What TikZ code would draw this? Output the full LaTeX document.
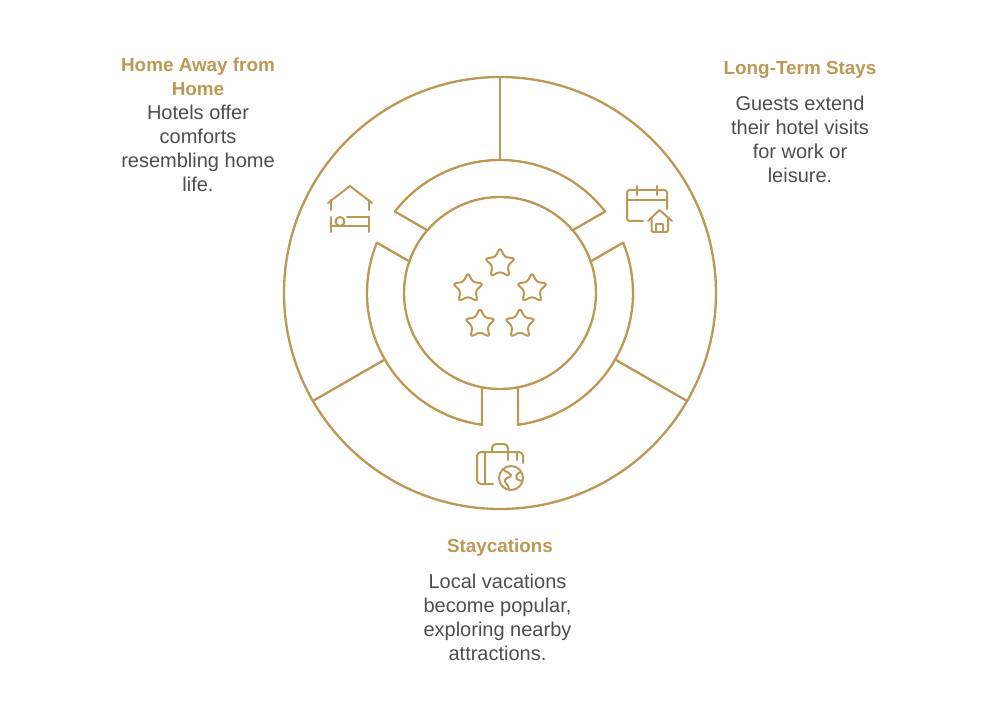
\documentclass[tikz,border=0pt]{standalone}
\usepackage{fontspec}
\setmainfont{Liberation Sans}
\definecolor{gold}{HTML}{BC9856}
\definecolor{bodygray}{HTML}{4D4D4D}
\tikzset{
  px/.style={x=0.75pt,y=-0.75pt},
  ln/.style={draw=gold,line width=1.75pt,line cap=round,line join=round},
  icon/.style={draw=gold,line width=1.5pt,line cap=round,line join=round},
  titletext/.style={text=gold,font=\fontsize{14.15}{18}\selectfont\bfseries,align=center,inner sep=0pt,anchor=base},
  bodytext/.style={text=bodygray,font=\fontsize{15}{18}\selectfont,align=center,inner sep=0pt,anchor=base}
}
\begin{document}
\begin{tikzpicture}[px]
\useasboundingbox (0,0) rectangle (1000,720);
\coordinate (c) at (500,293);
% circles
\draw[ln] (c) circle[radius=216];
\draw[ln] (c) circle[radius=96];
% ring segments, with y pointing down: angles are measured clockwise on screen
\foreach \a/\b in {217.78/322.22, 337.78/442.22, 97.78/202.22}{
  \draw[ln] ([shift={(\a:133)}]c) arc[start angle=\a,end angle=\b,radius=133];
}
% channel walls
\foreach \a in {90,210,330}{
  \draw[ln] ([shift={(\a-10.8:96)}]c) -- ([shift={(\a-7.78:133)}]c);
  \draw[ln] ([shift={(\a+10.8:96)}]c) -- ([shift={(\a+7.78:133)}]c);
}
% spokes
\foreach \a in {270,30,150}{
  \draw[ln] ([shift={(\a:133)}]c) -- ([shift={(\a:216)}]c);
}
% stars
\foreach \sx/\sy in {500/263.5,468/288.5,532/288.5,480/324,520/324}{
  \draw[icon,rounded corners=2.2pt]
    ([shift={(-90:16)}]\sx,\sy)
    -- ([shift={(-54:8)}]\sx,\sy) -- ([shift={(-18:16)}]\sx,\sy)
    -- ([shift={(18:8)}]\sx,\sy) -- ([shift={(54:16)}]\sx,\sy)
    -- ([shift={(90:8)}]\sx,\sy) -- ([shift={(126:16)}]\sx,\sy)
    -- ([shift={(162:8)}]\sx,\sy) -- ([shift={(198:16)}]\sx,\sy)
    -- ([shift={(234:8)}]\sx,\sy) -- cycle;
}
% house and bed icon
\draw[icon] (328,203) -- (350,186) -- (372,203);
\draw[icon] (331,200) -- (331,210);
\draw[icon] (369,200) -- (369,210);
\draw[icon] (331,217) -- (331,232);
\draw[icon] (369,217) -- (369,232);
\draw[icon] (331,226) -- (369,226);
\draw[icon] (347,217.5) -- (369,217.5);
\draw[icon] (340,221.5) circle[radius=4.5];
% calendar and house icon
\draw[icon,rounded corners=2pt] (643,221) -- (627,221) -- (627,190) -- (667,190) -- (667,209);
\draw[icon] (627,200) -- (667,200);
\draw[icon] (637,186) -- (637,195);
\draw[icon] (657,186) -- (657,195);
\draw[icon] (648,221) -- (659.5,210) -- (672,221);
\draw[icon,rounded corners=1pt] (651.5,218) -- (651.5,232) -- (668,232) -- (668,218);
\draw[icon] (656,232) -- (656,224) -- (663,224) -- (663,232);
% suitcase and globe icon
\draw[icon,rounded corners=3pt] (493,484) -- (477,484) -- (477,452) -- (523,452) -- (523,463);
\draw[icon] (485,452) -- (485,484);
\draw[icon,rounded corners=3pt] (492,452) -- (492,444) -- (508,444) -- (508,452);
\draw[icon] (508,452) -- (508,460);
\draw[icon] (517,452) -- (517,460);
\draw[icon] (511,478) circle[radius=12];
\draw[icon] (503,469.5) .. controls (507,473) and (510,472) .. (511,475) .. controls (511,478) and (506,477) .. (505,480) .. controls (504,483) and (509,484) .. (509,489.5);
\draw[icon] (521,472) .. controls (517,473) and (515,476) .. (517,479) .. controls (519,481) and (520,480) .. (522.5,481);
% texts
\node[titletext] (t1) at (198,72) {Home Away from};
\node[titletext] (t1b) at (198,96) {Home};
\node[bodytext] (b1) at (198,120) {Hotels offer};
\node[bodytext] (b1b) at (198,144) {comforts};
\node[bodytext] (b1c) at (198,168) {resembling home};
\node[bodytext] (b1d) at (198,192) {life.};
\node[titletext] (t2) at (800,75) {Long-Term Stays};
\node[bodytext] (b2) at (800,111) {Guests extend};
\node[bodytext] (b2b) at (800,135) {their hotel visits};
\node[bodytext] (b2c) at (800,159) {for work or};
\node[bodytext] (b2d) at (800,183) {leisure.};
\node[titletext] (t3) at (500,552) {Staycations};
\node[bodytext] (b3) at (497.5,588) {Local vacations};
\node[bodytext] (b3b) at (497.5,612) {become popular,};
\node[bodytext] (b3c) at (497.5,636) {exploring nearby};
\node[bodytext] (b3d) at (497.5,660) {attractions.};
\end{tikzpicture}
\end{document}
